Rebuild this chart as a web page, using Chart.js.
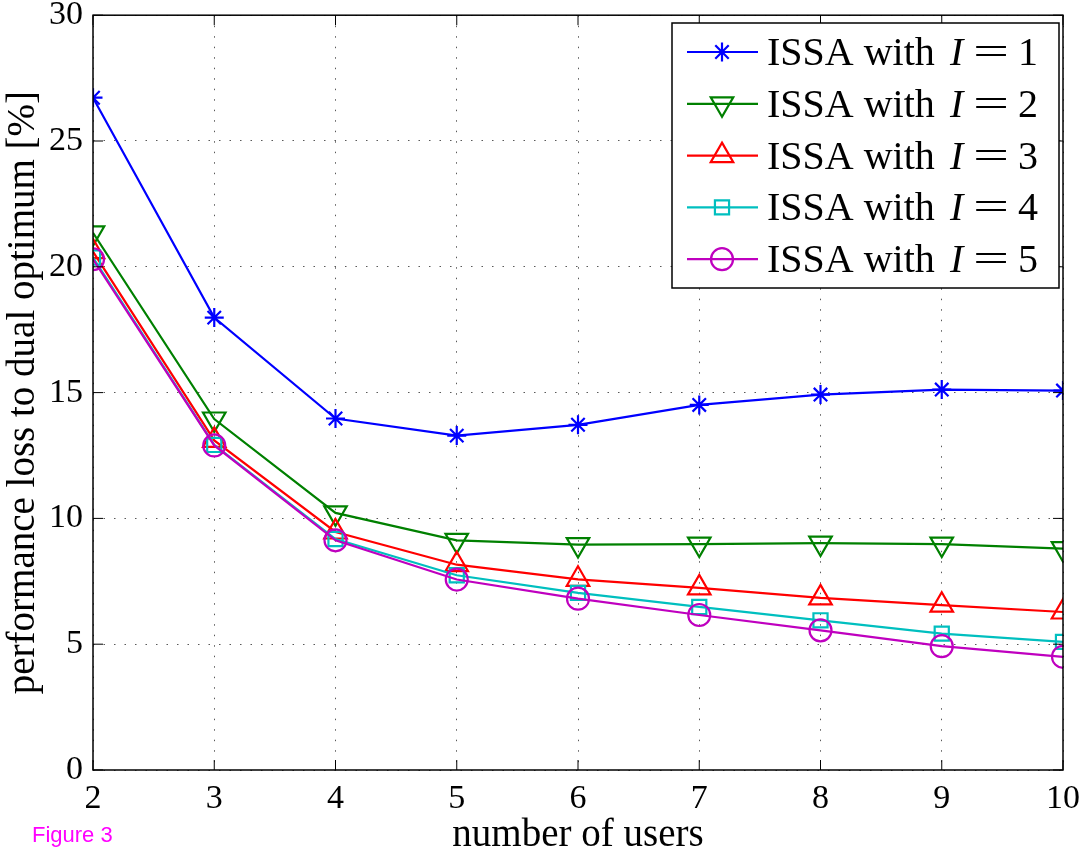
<!DOCTYPE html>
<html>
<head>
<meta charset="utf-8">
<script src="https://cdn.jsdelivr.net/npm/chart.js@4.4.0/dist/chart.umd.min.js"></script>
<style>
  html, body { margin: 0; padding: 0; background: #fff; }
  #wrap { width: 1083px; height: 851px; position: relative; }
</style>
</head>
<body>
<div id="wrap"><canvas id="perf-chart" width="1083" height="851"></canvas></div>
<script>
// number of users (x axis)
const users = [2, 3, 4, 5, 6, 7, 8, 9, 10];

// performance loss to dual optimum [%] for each I
const lossI1 = [26.72, 17.98, 13.97, 13.29, 13.72, 14.51, 14.92, 15.12, 15.08];
const lossI2 = [21.35, 13.95, 10.22, 9.13, 8.96, 8.98, 9.02, 8.98, 8.80];
const lossI3 = [20.60, 13.10, 9.46, 8.16, 7.58, 7.24, 6.84, 6.55, 6.28];
const lossI4 = [20.37, 12.92, 9.18, 7.74, 7.04, 6.48, 5.95, 5.42, 5.09];
const lossI5 = [20.30, 12.90, 9.13, 7.57, 6.81, 6.16, 5.55, 4.92, 4.50];

const iValues = ["1", "2", "3", "4", "5"];
const yTicks = [0, 5, 10, 15, 20, 25, 30];

const serif = "'Liberation Serif', 'Times New Roman', serif";

function toPoints(arr) {
    return users.map((u, i) => ({ x: u, y: arr[i] }));
}

const styles = [
    { color: "#0000ff", pointStyle: "star", radius: 9.5, rotation: 0 },
    { color: "#008000", pointStyle: "triangle", radius: 13, rotation: 180 },
    { color: "#ff0000", pointStyle: "triangle", radius: 13, rotation: 0 },
    { color: "#00bfbf", pointStyle: "rect", radius: 10, rotation: 0 },
    { color: "#bf00bf", pointStyle: "circle", radius: 11, rotation: 0 }
];

const allSeries = [lossI1, lossI2, lossI3, lossI4, lossI5];

const datasets = allSeries.map((arr, k) => ({
    label: "ISSA with I = " + iValues[k],
    data: toPoints(arr),
    borderColor: styles[k].color,
    backgroundColor: "rgba(0,0,0,0)",
    pointBorderColor: styles[k].color,
    pointBackgroundColor: "rgba(0,0,0,0)",
    pointStyle: styles[k].pointStyle,
    pointRadius: styles[k].radius,
    pointRotation: styles[k].rotation,
    pointBorderWidth: 2.2,
    borderWidth: 2.2,
    tension: 0,
    fill: false
})).reverse(); // chart.js paints index 0 last, so I=5 ends on top

// box, inward ticks, legend and figure label
const matlabDeco = {
    id: "matlabDeco",
    afterDraw(chart) {
        const ctx = chart.ctx;
        const a = chart.chartArea;
        const xs = chart.scales.x;
        const ys = chart.scales.y;
        ctx.save();
        ctx.strokeStyle = "#000";
        ctx.lineWidth = 1.5;
        ctx.strokeRect(a.left, a.top, a.right - a.left, a.bottom - a.top);

        // inward tick marks
        const tl = 10;
        ctx.lineWidth = 1;
        ctx.beginPath();
        users.forEach(u => {
            const px = xs.getPixelForValue(u);
            ctx.moveTo(px, a.bottom); ctx.lineTo(px, a.bottom - tl);
            ctx.moveTo(px, a.top); ctx.lineTo(px, a.top + tl);
        });
        yTicks.forEach(v => {
            const py = ys.getPixelForValue(v);
            ctx.moveTo(a.left, py); ctx.lineTo(a.left + tl, py);
            ctx.moveTo(a.right, py); ctx.lineTo(a.right - tl, py);
        });
        ctx.stroke();

        // legend
        const lx = 672, ly = 23, lw = 387, lh = 265;
        ctx.fillStyle = "#fff";
        ctx.fillRect(lx, ly, lw, lh);
        ctx.strokeStyle = "#000";
        ctx.lineWidth = 1.5;
        ctx.strokeRect(lx, ly, lw, lh);
        const rowH = 51.8;
        iValues.forEach((iv, k) => {
            const cy = ly + 29 + k * rowH;
            const st = styles[k];
            ctx.strokeStyle = st.color;
            ctx.lineWidth = 2.2;
            ctx.beginPath();
            ctx.moveTo(687, cy);
            ctx.lineTo(758, cy);
            ctx.stroke();
            ctx.fillStyle = "rgba(0,0,0,0)";
            Chart.helpers.drawPoint(ctx, {
                pointStyle: st.pointStyle,
                radius: st.radius,
                rotation: st.rotation,
                borderWidth: 2.2
            }, 722, cy);

            ctx.fillStyle = "#000";
            ctx.textBaseline = "alphabetic";
            ctx.textAlign = "left";
            const base = cy + 13;
            ctx.font = "40px " + serif;
            ctx.fillText("ISSA with", 767, base);
            ctx.font = "italic 40px " + serif;
            ctx.fillText("I", 950, base);
            ctx.font = "40px " + serif;
            ctx.save();
            ctx.translate(973, base);
            ctx.scale(1.6, 1);
            ctx.fillText("=", 0, 0);
            ctx.restore();
            ctx.fillText(iv, 1018, base);
        });

        // figure label
        ctx.fillStyle = "#ff00ff";
        ctx.font = "22px 'Liberation Sans', Arial, sans-serif";
        ctx.textBaseline = "alphabetic";
        ctx.textAlign = "left";
        ctx.fillText("Figure 3", 32, 842);
        ctx.restore();
    }
};

new Chart(document.getElementById("perf-chart").getContext("2d"), {
    type: "line",
    data: { datasets: datasets },
    options: {
        responsive: false,
        animation: false,
        layout: { padding: { left: 0, right: 20, top: 14, bottom: 0 } },
        plugins: {
            legend: { display: false },
            tooltip: { enabled: false }
        },
        scales: {
            x: {
                type: "linear",
                min: 2,
                max: 10,
                afterFit: s => {
                    s.height = 81;
                    s.paddingLeft = 0; s.paddingRight = 0;
                },
                afterBuildTicks: s => { s.ticks = users.map(v => ({ value: v })); },
                ticks: {
                    color: "#000",
                    font: { family: serif, size: 34 },
                    padding: 9,
                    maxRotation: 0
                },
                grid: {
                    color: "rgba(0,0,0,0.65)",
                    lineWidth: 1,
                    drawTicks: false
                },
                border: { display: false, dash: [1.5, 9] },
                title: {
                    display: true,
                    text: "number of users",
                    color: "#000",
                    font: { family: serif, size: 39, lineHeight: 0.8 },
                    padding: { top: 0, bottom: 0 }
                }
            },
            y: {
                min: 0,
                max: 30,
                afterFit: s => {
                    s.width = 93;
                    s.paddingTop = 0; s.paddingBottom = 0;
                },
                afterBuildTicks: s => { s.ticks = yTicks.map(v => ({ value: v })); },
                ticks: {
                    color: "#000",
                    font: { family: serif, size: 34 },
                    padding: 10
                },
                grid: {
                    color: "rgba(0,0,0,0.65)",
                    lineWidth: 1,
                    drawTicks: false
                },
                border: { display: false, dash: [1.5, 9] },
                title: {
                    display: true,
                    text: "performance loss to dual optimum [%]",
                    color: "#000",
                    font: { family: serif, size: 39 },
                    padding: { top: 0, bottom: 0 }
                }
            }
        }
    },
    plugins: [matlabDeco]
});
</script>
</body>
</html>
